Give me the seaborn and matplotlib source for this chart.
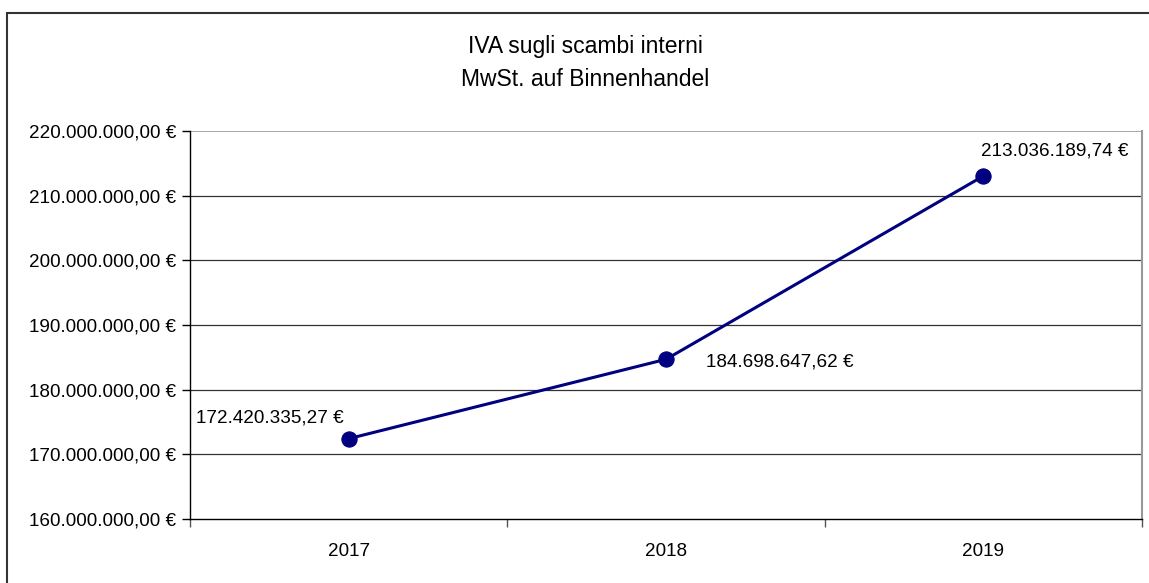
import matplotlib
matplotlib.use("Agg")
import matplotlib.pyplot as plt
import seaborn as sns
import pandas as pd
from matplotlib.ticker import FuncFormatter, FixedLocator
from matplotlib.patches import Rectangle

years = ["2017", "2018", "2019"]
values = [172420335.27, 184698647.62, 213036189.74]
title_lines = ["IVA sugli scambi interni", "MwSt. auf Binnenhandel"]

def eur(v):
    s = f"{v:,.2f}".replace(",", "X").replace(".", ",").replace("X", ".")
    return s + " €"

sns.set_theme(style="white")
plt.rcParams["font.family"] = ["Liberation Sans", "DejaVu Sans"]

df = pd.DataFrame({"year": years, "value": values})

fig = plt.figure(figsize=(11.49, 5.83), dpi=100)
ax = fig.add_axes([190/1149, 1-519/583, (1142-190)/1149, (519-131)/583])

sns.lineplot(data=df, x="year", y="value", ax=ax, color="#000080", linewidth=2.2,
             marker="o", markersize=11, markeredgecolor="#000080", markerfacecolor="#000080",
             zorder=5)

FS = 13.6
ax.set_xlim(-0.5, 2.5)
ax.set_ylim(160e6, 220e6)
ax.set_yticks([160e6 + 10e6*i for i in range(7)])
ax.yaxis.set_major_formatter(FuncFormatter(lambda v, p: eur(v)))
ax.set_xticks([0, 1, 2])
ax.set_xticklabels(years)
ax.xaxis.set_minor_locator(FixedLocator([-0.5, 0.5, 1.5, 2.5]))
ax.tick_params(axis="x", which="major", length=0, pad=17, labelsize=FS, colors="black")
ax.tick_params(axis="x", which="minor", length=6, width=1, color="#555555", direction="out", bottom=True)
ax.tick_params(axis="y", which="major", length=6, width=1, color="black", direction="out",
               left=True, labelsize=FS, labelcolor="black", pad=4)
ax.set_xlabel("")
ax.set_ylabel("")

for yv in [170e6, 180e6, 190e6, 200e6, 210e6]:
    ax.axhline(yv, color="#333333", linewidth=0.9, zorder=1)
ax.axhline(220e6, color="#999999", linewidth=1.2, zorder=1)

ax.spines["top"].set_visible(False)
ax.spines["right"].set_color("#999999")
ax.spines["right"].set_linewidth(1.5)
ax.spines["left"].set_color("black")
ax.spines["left"].set_linewidth(1)
ax.spines["bottom"].set_color("black")
ax.spines["bottom"].set_linewidth(1)

offsets = [(-5, 21, "right"), (40, -3, "left"), (-2, 25, "left")]
for i, (v, (dx, dy, ha)) in enumerate(zip(values, offsets)):
    ax.annotate(eur(v), (i, v), xytext=(dx, dy), textcoords="offset pixels",
                ha=ha, va="center", fontsize=FS, color="black")

fig.text(585/1149, 1-46/583, title_lines[0], ha="center", va="center", fontsize=16.5, color="black")
fig.text(585/1149, 1-80/583, title_lines[1], ha="center", va="center", fontsize=16.5, color="black")

fig.patches.append(Rectangle((7/1149, -0.1), 1.2, 1-13/583+0.1, transform=fig.transFigure,
                             fill=False, edgecolor="#333333", linewidth=1.5))

fig.savefig("out.png", dpi=100)
